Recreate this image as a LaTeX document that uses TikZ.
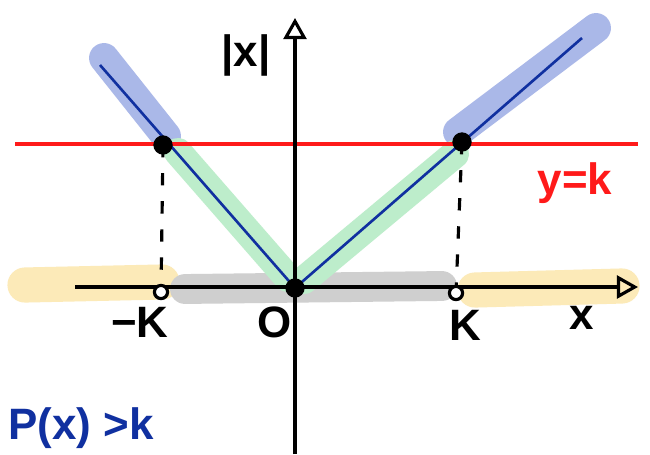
\documentclass[tikz,border=0pt]{standalone}
\usepackage{fontspec}
\setmainfont{Liberation Sans}
\usetikzlibrary{arrows.meta}
\definecolor{vblue}{HTML}{1030A0}
\definecolor{bandblue}{HTML}{AAB8E8}
\definecolor{bandgreen}{HTML}{BDEDCB}
\definecolor{bandgrey}{HTML}{CFCFCF}
\definecolor{bandyellow}{HTML}{FCEAB8}
\definecolor{kred}{HTML}{FF1A1A}
\tikzset{
  band/.style={line width=17pt, line cap=round},
  axisline/.style={line width=2pt, black},
  vline/.style={line width=1.5pt, vblue},
  kline/.style={line width=1.8pt, kred},
  bigdot/.style={circle, fill=black, inner sep=0pt, minimum size=11pt},
  smalldot/.style={circle, draw=black, line width=1.8pt, fill=white, inner sep=0pt, minimum size=7.5pt},
  guide/.style={line width=1.8pt, black, dash pattern=on 7pt off 9pt},
  lbl/.style={font=\bfseries\fontsize{25}{25}\selectfont, inner sep=0pt},
  openarrow/.style={-{Triangle[open, length=12pt, width=13pt, line width=1.8pt]}}
}
\begin{document}
\begin{tikzpicture}[x=0.02cm, y=-0.02cm]
\useasboundingbox (0,0) rectangle (650,454);
\fill[white] (0,0) rectangle (650,454);
% key points
\coordinate (O) at (295,288);
\coordinate (L) at (163,145);
\coordinate (R) at (462,142);
\coordinate (Ltop) at (100,65);
\coordinate (Rtop) at (582,38);
\coordinate (mK) at (161,292);
\coordinate (pK) at (456,293);
% highlight bands
\draw[band, bandyellow, line width=20pt] (25,285) -- (162,282);
\draw[band, bandyellow, line width=20pt] (475,290) -- (622,286);
\draw[band, bandgrey] (185,289) -- (442,286);
\draw[band, bandblue] (104,58) -- (166,136);
\draw[band, bandblue] (458,132) -- (596,28);
\draw[band, bandgreen, line width=16pt] (178,152) -- (288,278);
\draw[band, bandgreen, line width=16pt] (304,280) -- (455,154);
% reference line y = k
\draw[kline] (15,144) -- (638,144);
% axes
\draw[axisline, openarrow] (295,454) -- (295,18);
\draw[axisline, openarrow] (75,287) -- (638,287);
% |x|
\draw[vline] (Ltop) -- (O) -- (Rtop);
% guide lines
\draw[guide] (L) -- (mK);
\draw[guide] (R) -- (pK);
% points
\node[bigdot] (dL) at (L) {};
\node[bigdot] (dR) at (R) {};
\node[bigdot] (dO) at (O) {};
\node[smalldot] (dmK) at (mK) {};
\node[smalldot] (dpK) at (pK) {};
% labels
\node[lbl] (ylab) at (246,55) {|x|};
\node[lbl, text=kred] (klab) at (575,183) {y=k};
\node[lbl] (mKlab) at (140,322) {−K};
\node[lbl] (Olab) at (275,322) {O};
\node[lbl] (pKlab) at (465,325) {K};
\node[lbl] (xlab) at (582,318) {x};
\node[lbl, text=vblue, anchor=west] (plab) at (8,428) {P(x) >k};
\end{tikzpicture}
\end{document}
